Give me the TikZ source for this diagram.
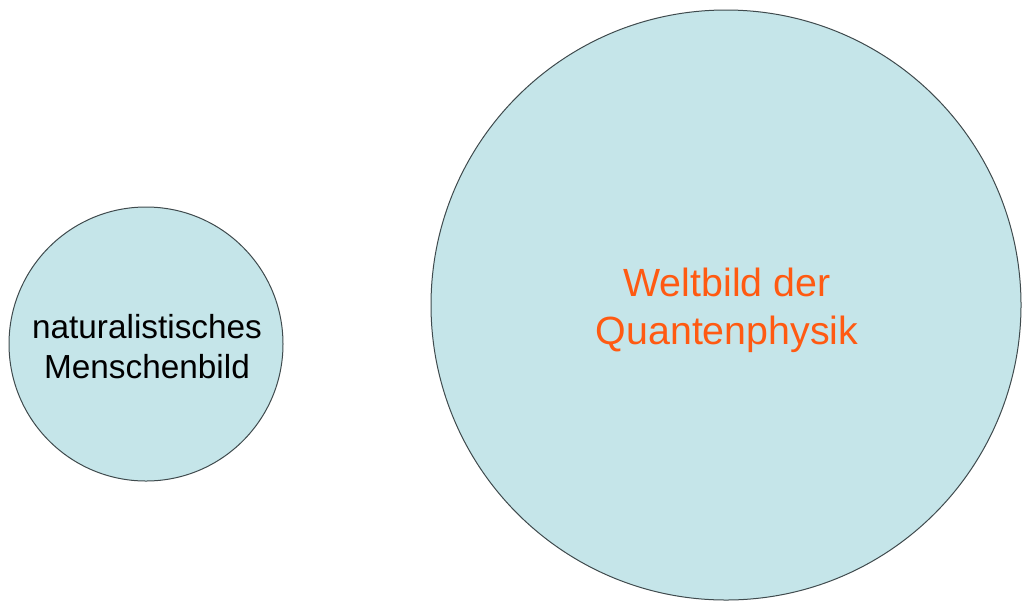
\documentclass[tikz,border=0pt]{standalone}
\usepackage{fontspec}
\setmainfont{Liberation Sans}
\definecolor{bubble}{HTML}{C5E5E9}
\definecolor{rim}{HTML}{3F4A4D}
\definecolor{quant}{HTML}{FF5A12}
\begin{document}
\begin{tikzpicture}[x=0.75pt,y=-0.75pt]
\useasboundingbox (0,0) rectangle (1023,601);
\draw[rim, fill=bubble, line width=0.75pt] (146,344) circle (137);
\draw[rim, fill=bubble, line width=0.75pt] (726,305) circle (295);
\draw 	(147,347) node[align=center, font=\fontsize{25}{30}\selectfont](a1){naturalistisches\\Menschenbild}
		(727,310) node[align=center, text=quant, font=\fontsize{29.5}{36}\selectfont](b1){Weltbild der\\Quantenphysik};
\end{tikzpicture}
\end{document}
